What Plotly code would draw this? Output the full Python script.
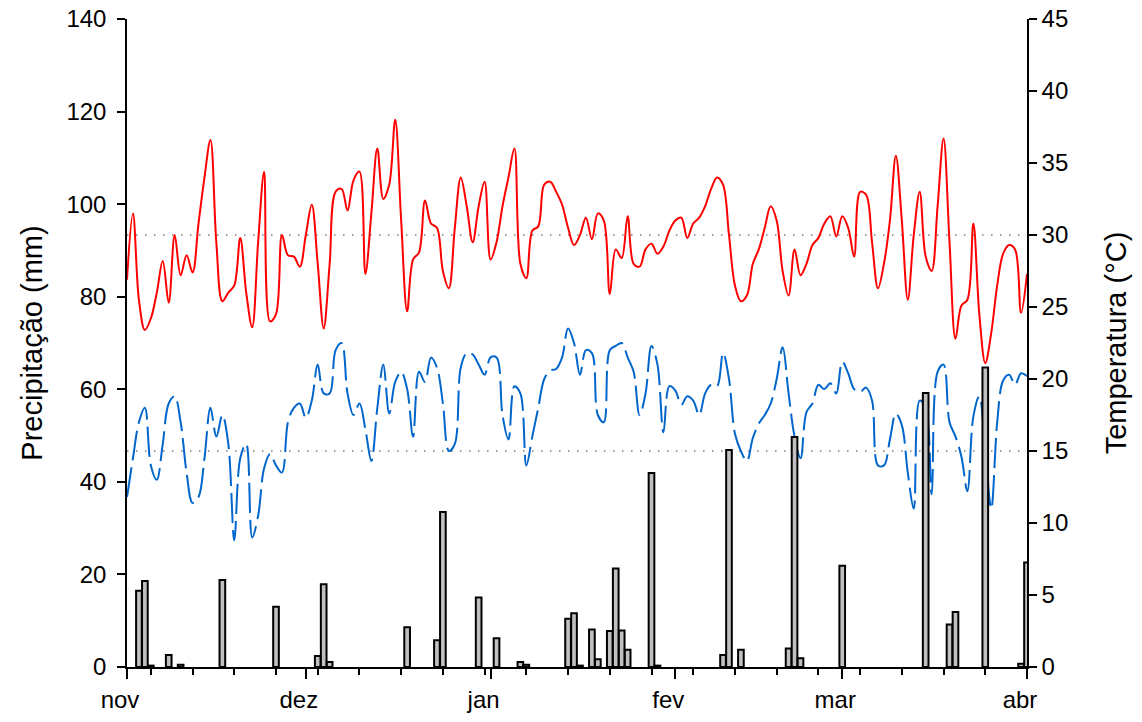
import pandas as pd
import plotly.graph_objects as go

# Daily series, 1 Nov 2013 – 1 Apr 2014
dates = pd.date_range("2013-11-01", "2014-04-01", freq="D")

# Maximum air temperature (°C)
tmax = [
    26.9, 31.5, 25.5, 23.4, 24.2, 26.0, 28.2, 25.3, 30.0, 27.2,
    28.6, 27.4, 30.8, 34.0, 36.6, 29.4, 25.4, 26.0, 26.5, 29.8,
    26.0, 23.6, 29.5, 34.4, 24.0, 24.5, 30.0, 28.6, 28.5, 27.8,
    30.0, 32.1, 28.0, 23.5, 28.0, 33.0, 33.2, 31.7, 33.8, 34.4,
    27.3, 31.5, 36.0, 32.5, 33.5, 38.0, 31.0, 24.7, 28.3, 28.8,
    32.4, 30.8, 30.5, 27.5, 26.3, 30.5, 34.0, 32.0, 29.5, 32.0,
    33.7, 28.3, 29.5, 32.0, 34.0, 36.0, 28.0, 27.0, 30.3, 30.6,
    33.5, 33.7, 33.0, 32.1, 30.5, 29.3, 30.0, 31.2, 29.7, 31.5,
    31.0, 25.9, 29.0, 28.4, 31.3, 28.0, 27.8, 29.0, 29.4, 28.7,
    29.2, 30.3, 31.0, 31.2, 29.8, 30.8, 31.2, 32.0, 33.2, 34.0,
    33.5, 30.0, 26.5, 25.4, 25.8, 28.0, 29.0, 30.5, 32.0, 31.0,
    27.5, 25.8, 29.0, 27.2, 28.0, 29.3, 29.8, 30.8, 31.3, 29.9,
    31.3, 30.5, 28.5, 33.0, 32.8, 29.5, 26.3, 28.0, 31.0, 35.5,
    31.0, 25.5, 30.0, 33.0, 28.5, 27.5, 32.0, 36.7, 29.5, 22.8,
    25.1, 25.5, 30.8, 24.5, 21.1, 23.2, 26.5, 28.7, 29.3, 29.0,
    24.6, 27.3,
]

# Minimum air temperature (°C)
tmin = [
    11.8, 14.5, 17.0, 18.0, 14.0, 13.0, 15.5, 18.3, 18.8, 17.0,
    13.5, 11.4, 11.8, 14.5, 18.0, 16.0, 17.5, 15.5, 8.8, 14.5,
    15.5, 9.0, 10.5, 13.8, 14.8, 14.0, 13.5, 17.0, 18.0, 18.3,
    17.3, 18.5, 21.0, 19.0, 19.0, 22.0, 22.5, 19.0, 17.5, 18.3,
    16.5, 14.3, 18.0, 21.0, 17.6, 19.8, 20.5, 19.3, 16.0, 20.5,
    19.8, 21.5, 20.8, 18.3, 15.0, 15.5, 20.8, 21.8, 21.7, 21.0,
    20.3, 21.5, 21.5, 17.5, 15.8, 19.5, 19.0, 14.0, 16.0, 18.0,
    20.0, 20.6, 20.7, 21.5, 23.5, 22.5, 20.3, 22.0, 21.8, 17.5,
    17.0, 22.0, 22.3, 22.5, 21.5, 20.5, 17.5, 19.0, 22.3, 21.0,
    16.3, 19.5, 19.2, 18.2, 18.8, 18.5, 17.5, 19.0, 19.6, 19.5,
    21.8, 20.0, 16.2, 15.0, 14.3, 15.9, 16.9, 17.5, 18.3, 20.0,
    22.2, 19.0, 16.0, 14.5, 17.7, 18.3, 19.6, 19.3, 19.7, 19.0,
    21.2, 20.4, 19.3, 19.1, 19.4, 18.5, 14.0, 14.0, 15.8, 17.6,
    16.8, 13.5, 11.0, 18.5, 18.0, 12.0, 20.5, 21.0, 17.0, 16.0,
    14.6, 12.2, 17.4, 18.8, 15.0, 11.0, 17.0, 19.9, 20.3, 19.6,
    20.4, 20.2,
]

# Daily rainfall (mm) on the days with rain
rain_dates = [
    "2013-11-03", "2013-11-04", "2013-11-05", "2013-11-08", "2013-11-10",
    "2013-11-17", "2013-11-26", "2013-12-03", "2013-12-04", "2013-12-05",
    "2013-12-18", "2013-12-23", "2013-12-24", "2013-12-30", "2014-01-02",
    "2014-01-06", "2014-01-07", "2014-01-14", "2014-01-15", "2014-01-16",
    "2014-01-18", "2014-01-19", "2014-01-21", "2014-01-22", "2014-01-23",
    "2014-01-24", "2014-01-28", "2014-01-29", "2014-02-09", "2014-02-10",
    "2014-02-12", "2014-02-20", "2014-02-21", "2014-02-22", "2014-03-01",
    "2014-03-15", "2014-03-19", "2014-03-20", "2014-03-25", "2014-03-31",
    "2014-04-01",
]
rain_mm = [
    16.5, 18.6, 0.3, 2.6, 0.5,
    18.8, 13.0, 2.4, 17.9, 1.1,
    8.6, 5.8, 33.5, 15.0, 6.2,
    1.1, 0.5, 10.4, 11.6, 0.3,
    8.1, 1.7, 7.8, 21.3, 7.9,
    3.7, 41.9, 0.3, 2.6, 46.9,
    3.7, 4.0, 49.7, 1.9, 21.9,
    59.2, 9.2, 11.9, 64.7, 0.7,
    22.6,
]

# Reference temperatures marked with dotted lines
ref_temps = [30, 15]

month_ticks = ["2013-11-01", "2013-12-01", "2014-01-01", "2014-02-01", "2014-03-01", "2014-04-01"]
month_labels = ["nov", "dez", "jan", "fev", "mar", "abr"]

DAY_MS = 86400000
FONT = "Liberation Sans, Arial, sans-serif"

fig = go.Figure()

fig.add_trace(go.Scatter(
    x=dates, y=tmax, mode="lines", yaxis="y",
    line=dict(color="#ff0000", width=2, shape="spline", smoothing=1.0),
    hoverinfo="skip",
))
fig.add_trace(go.Scatter(
    x=dates, y=tmin, mode="lines", yaxis="y",
    line=dict(color="#0066cc", width=2, shape="spline", smoothing=1.0, dash="30px,7px"),
    hoverinfo="skip",
))
fig.add_trace(go.Bar(
    x=pd.to_datetime(rain_dates), y=rain_mm, yaxis="y2",
    width=DAY_MS * 0.95,
    marker=dict(color="#c0c0c0", line=dict(color="#000000", width=2)),
    hoverinfo="skip",
))

for t in ref_temps:
    fig.add_shape(
        type="line", xref="paper", x0=0, x1=1, yref="y", y0=t, y1=t,
        line=dict(color="#808080", width=1.5, dash="1.5px,7.5px"), layer="below",
    )

axis_common = dict(
    showline=True, linecolor="black", linewidth=1.5,
    ticks="outside", tickcolor="black", tickwidth=1.5,
    showgrid=False, zeroline=False, automargin=False,
    tickfont=dict(family=FONT, size=24, color="black"),
)

fig.update_layout(
    width=1142, height=722,
    margin=dict(l=127, r=115, t=19, b=55),
    plot_bgcolor="white", paper_bgcolor="white",
    showlegend=False,
    font=dict(family=FONT, color="black"),
    xaxis=dict(
        **axis_common,
        type="date",
        range=["2013-11-01", "2014-04-01"],
        tickmode="array", tickvals=month_ticks, ticktext=month_labels,
        ticklen=10,
        ticklabelshift=-7,
        minor=dict(ticks="outside", ticklen=6, tickwidth=1.5, tickcolor="black",
                   tick0="2013-11-05", dtick=7 * DAY_MS, showgrid=False),
    ),
    yaxis=dict(
        **axis_common,
        side="right",
        range=[0, 45], dtick=5, ticklen=8,
        title=dict(text="Temperatura (°C)", font=dict(family=FONT, size=29, color="black"), standoff=38),
    ),
    yaxis2=dict(
        **axis_common,
        side="left", overlaying="y",
        range=[0, 140], dtick=20, ticklen=8,
        ticklabelstandoff=6,
        title=dict(text="Precipitação (mm)", font=dict(family=FONT, size=29, color="black"), standoff=15),
    ),
)

fig.write_html("out.html")
